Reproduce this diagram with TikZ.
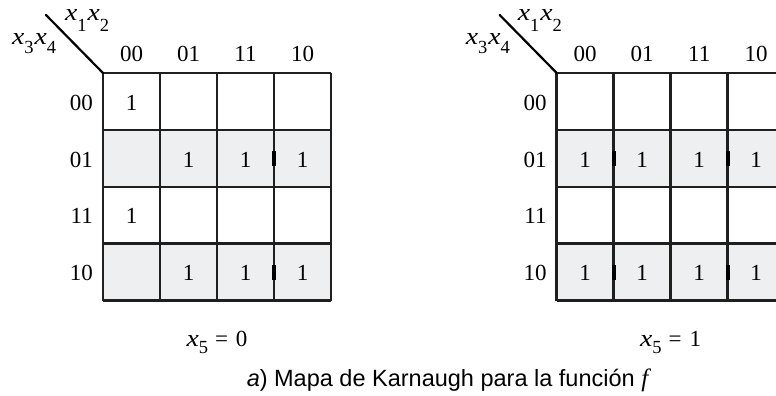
\documentclass[tikz,border=0pt]{standalone}
\usepackage{graphicx}
\usepackage{fontspec}
\setmainfont{Liberation Serif}
\newfontfamily\capfont{Liberation Sans}
\definecolor{kgray}{HTML}{EEEFF1}
\newcommand\kvar[2][-11pt]{\scalebox{1.15}[1]{\fontsize{24}{28}\selectfont\textit{x}}\kern0pt\raisebox{#1}{\fontsize{18.5}{20}\selectfont #2}\kern1pt}
\tikzset{
  gridline/.style={line width=2.6pt, black!88},
  lbl/.style={inner sep=0pt, anchor=base, font=\fontsize{23}{26}\selectfont},
  rlbl/.style={inner sep=0pt, anchor=base east, font=\fontsize{23}{26}\selectfont},
  tick/.style={line width=4pt, black},
}
\begin{document}
\begin{tikzpicture}[x=1pt,y=-1pt]
\useasboundingbox (0,0) rectangle (776,396);
\clip (0,0) rectangle (776,396);
% ---------- left map ----------
\begin{scope}[shift={(103,0)}]
  \fill[kgray] (0,130) rectangle (228,187);
  \fill[kgray] (0,243.5) rectangle (228,300.5);
  \foreach \c in {0,57,114,171,228} \draw[gridline] (\c,73) -- (\c,300.5);
  \foreach \r in {73,130,187,243.5,300.5} \draw[gridline] (0,\r) -- (228,\r);
  \coordinate (La) at (-57,15);
  \coordinate (Lb) at (0,73);
  \draw[line width=2.2pt, line cap=round] (La) -- (Lb);
  \node[lbl, anchor=base west] (Lx12) at (-38,20.5) {\kvar{1}\kvar{2}};
  \node[lbl, anchor=base west] (Lx34) at (-91,44.5) {\kvar[-9pt]{3}\kvar[-9pt]{4}};
  \node[lbl] (Lc1) at (28.5,62) {00};
  \node[lbl] (Lc2) at (85.5,62) {01};
  \node[lbl] (Lc3) at (142.5,62) {11};
  \node[lbl] (Lc4) at (199.5,62) {10};
  \node[rlbl] (Lr1) at (-10,110) {00};
  \node[rlbl] (Lr2) at (-10,167) {01};
  \node[rlbl] (Lr3) at (-10,223.5) {11};
  \node[rlbl] (Lr4) at (-10,280.5) {10};
  \node[lbl] (L11) at (28.5,110) {1};
  \node[lbl] (L22) at (85.5,167) {1};
  \node[lbl] (L23) at (142.5,167) {1};
  \node[lbl] (L24) at (199.5,167) {1};
  \node[lbl] (L31) at (28.5,223.5) {1};
  \node[lbl] (L42) at (85.5,280.5) {1};
  \node[lbl] (L43) at (142.5,280.5) {1};
  \node[lbl] (L44) at (199.5,280.5) {1};
  \draw[tick] (171,151) -- (171,166);
  \draw[tick] (171,265) -- (171,280);
  \node[lbl] (Lx5) at (114,346.5) {\kvar[-7pt]{5}\hspace{6pt}=\hspace{8pt}0};
\end{scope}
% ---------- right map ----------
\begin{scope}[shift={(556.7,0)}]
  \fill[kgray] (0,130) rectangle (228,187);
  \fill[kgray] (0,243.5) rectangle (228,300.5);
  \foreach \c in {0,57,114,171,228} \draw[gridline] (\c,73) -- (\c,300.5);
  \foreach \r in {73,130,187,243.5,300.5} \draw[gridline] (0,\r) -- (228,\r);
  \coordinate (Ra) at (-57,15);
  \coordinate (Rb) at (0,73);
  \draw[line width=2.2pt, line cap=round] (Ra) -- (Rb);
  \node[lbl, anchor=base west] (Rx12) at (-39,20.5) {\kvar{1}\kvar{2}};
  \node[lbl, anchor=base west] (Rx34) at (-91,44.5) {\kvar[-9pt]{3}\kvar[-9pt]{4}};
  \node[lbl] (Rc1) at (28.5,62) {00};
  \node[lbl] (Rc2) at (85.5,62) {01};
  \node[lbl] (Rc3) at (142.5,62) {11};
  \node[lbl] (Rc4) at (199.5,62) {10};
  \node[rlbl] (Rr1) at (-10,110) {00};
  \node[rlbl] (Rr2) at (-10,167) {01};
  \node[rlbl] (Rr3) at (-10,223.5) {11};
  \node[rlbl] (Rr4) at (-10,280.5) {10};
  \node[lbl] (R21) at (28.5,167) {1};
  \node[lbl] (R22) at (85.5,167) {1};
  \node[lbl] (R23) at (142.5,167) {1};
  \node[lbl] (R24) at (199.5,167) {1};
  \node[lbl] (R41) at (28.5,280.5) {1};
  \node[lbl] (R42) at (85.5,280.5) {1};
  \node[lbl] (R43) at (142.5,280.5) {1};
  \node[lbl] (R44) at (199.5,280.5) {1};
  \draw[tick] (57,151) -- (57,166);
  \draw[tick] (171,151) -- (171,166);
  \draw[tick] (57,265) -- (57,280);
  \draw[tick] (171,265) -- (171,280);
  \node[lbl] (Rx5) at (114,346.5) {\kvar[-7pt]{5}\hspace{6pt}=\hspace{8pt}1};
\end{scope}
\node[inner sep=0pt, anchor=base, font=\capfont\fontsize{23.5}{26}\selectfont] (cap) at (447.5,386.5)
  {\textit{a}) Mapa de Karnaugh para la función {\rmfamily\itshape\fontsize{25}{26}\selectfont f}};
\end{tikzpicture}
\end{document}
